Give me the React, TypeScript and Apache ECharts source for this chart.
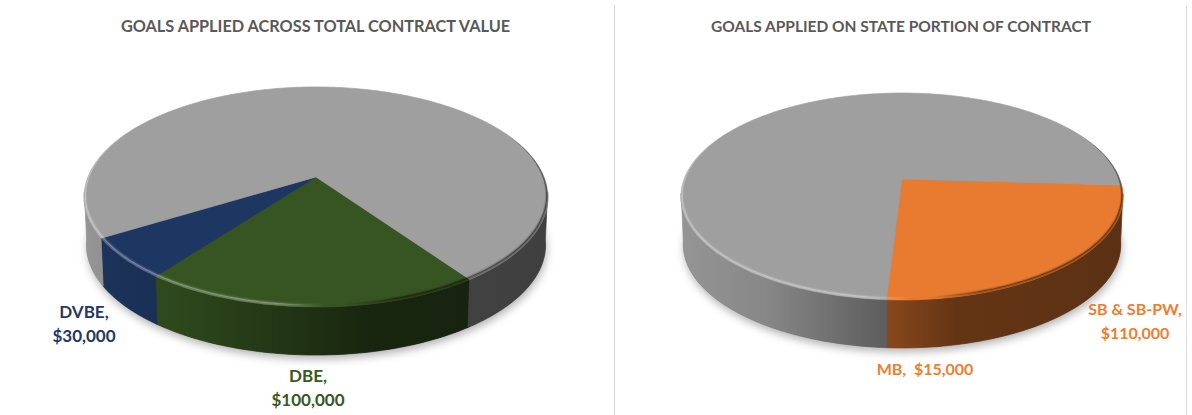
import React, { useEffect, useRef } from "react";
import * as echarts from "echarts";

const TITLE_LEFT = "GOALS APPLIED ACROSS TOTAL CONTRACT VALUE";
const TITLE_RIGHT = "GOALS APPLIED ON STATE PORTION OF CONTRACT";

const leftNames = ["DBE", "DVBE", "Remainder"];
const leftValues = [100000, 30000, 370000];
const rightNames = ["SB & SB-PW", "MB", "Remainder"];
const rightValues = [110000, 15000, 375000];

const COLORS: Record<string, string> = {
  DBE: "#385723",
  DVBE: "#1F3864",
  "SB & SB-PW": "#ED7D31",
  MB: "#ED7D31",
  Remainder: "#A2A2A2",
};

const labelTexts: Record<string, (v: string) => string> = {
  DBE: (v) => `DBE,\n${v}`,
  DVBE: (v) => `DVBE,\n${v}`,
  "SB & SB-PW": (v) => `SB & SB-PW,\n${v}`,
  MB: (v) => `MB,  ${v}`,
};

const LABEL_POS: Record<string, [number, number, number]> = {
  DBE: [308, 387, 17],
  DVBE: [84, 323, 17],
  "SB & SB-PW": [1135, 320, 16],
  MB: [925, 368, 16],
};

type Geo = {
  cx: number; apexY: number; rx: number; a: number; b: number; k: number;
  depth: number; start: number;
};
const GEO_LEFT: Geo = { cx: 316, apexY: 177, rx: 232, a: 228, b: 106.4, k: 0.1818, depth: 48, start: 55 };
const GEO_RIGHT: Geo = { cx: 902, apexY: 179, rx: 221, a: 217.8, b: 100.5, k: 0.169, depth: 48, start: 3.4 };

const rad = (d: number) => (d * Math.PI) / 180;

function project(g: Geo, deg: number, r = 1): [number, number] {
  const u = r * Math.cos(rad(deg));
  const v = r * Math.sin(rad(deg));
  const w = 1 - g.k * v;
  return [g.cx + (g.a * u) / w, g.apexY + (g.b * v) / w];
}
function projectBottom(g: Geo, deg: number): [number, number] {
  const [x, y] = project(g, deg);
  return [g.cx + (x - g.cx) * 0.99, y + g.depth];
}
function arc(a1: number, a2: number, fn: (d: number) => [number, number]) {
  const pts: [number, number][] = [];
  const n = Math.max(2, Math.ceil(Math.abs(a2 - a1)));
  for (let i = 0; i <= n; i++) pts.push(fn(a1 + ((a2 - a1) * i) / n));
  return pts;
}

function shade(hex: string, m: number) {
  const n = parseInt(hex.slice(1), 16);
  const c = [(n >> 16) & 255, (n >> 8) & 255, n & 255].map((x) => Math.round(x * m));
  return `rgb(${c[0]},${c[1]},${c[2]})`;
}
const WALL_STOPS: [number, number][] = [[0, 0.92], [0.2, 0.83], [0.47, 0.57], [0.62, 0.42], [1, 0.39]];

function wallFill(g: Geo, color: string) {
  return {
    type: "linear", global: true, x: g.cx - g.rx, y: 0, x2: g.cx + g.rx, y2: 0,
    colorStops: WALL_STOPS.map(([offset, m]) => ({ offset, color: shade(color, m) })),
  };
}
function bevelFill(g: Geo, alpha: number) {
  return {
    type: "linear", global: true, x: g.cx - g.rx, y: 0, x2: g.cx + g.rx, y2: 0,
    colorStops: [
      { offset: 0, color: `rgba(255,255,255,${alpha})` },
      { offset: 0.42, color: `rgba(255,255,255,${alpha})` },
      { offset: 0.52, color: `rgba(255,255,255,0)` },
      { offset: 0.56, color: `rgba(0,0,0,0)` },
      { offset: 0.68, color: `rgba(0,0,0,${alpha * 1.3})` },
      { offset: 1, color: `rgba(0,0,0,${alpha * 1.5})` },
    ],
  };
}
// bevel width follows the angle: widest on the front and sides, gone at the back
function bevelWidth(deg: number) {
  return Math.max(0, 0.009 + 0.018 * Math.sin(rad(deg)));
}
function band(g: Geo, a1: number, a2: number, w0: number, w1: number) {
  const outer = arc(a1, a2, (d) => project(g, d, 1 - w0 * bevelWidth(d)));
  const inner = arc(a2, a1, (d) => project(g, d, 1 - w1 * bevelWidth(d)));
  return [...outer, ...inner];
}

function sliceRenderer(geo: Geo, names: string[], values: number[]) {
  const total = values.reduce((s, v) => s + v, 0);
  return (params: any, api: any) => {
    const i = params.dataIndex;
    const name = names[i];
    const color = COLORS[name];
    const before = values.slice(0, i).reduce((s, v) => s + v, 0);
    const a1 = geo.start + (before / total) * 360;
    const a2 = a1 + (api.value(0) / total) * 360;
    // neighbouring slices of one colour overlap slightly, so that no seam shows
    const sameAsPrevious = i > 0 && COLORS[names[i - 1]] === color;
    const drawFrom = sameAsPrevious ? a1 - 1 : a1;
    const children: any[] = [];

    // side wall, only the visible front part of the rim
    for (const shift of [0, -360]) {
      const w1 = Math.max(drawFrom + shift, 8);
      const w2 = Math.min(a2 + shift, 172);
      if (w2 > w1) {
        const fill = wallFill(geo, color);
        children.push({
          type: "polygon", z2: 1,
          shape: { points: [...arc(w1, w2, (d) => project(geo, d)), ...arc(w2, w1, (d) => projectBottom(geo, d))] },
          style: { fill, stroke: fill, lineWidth: 0.7 },
        });
      }
    }
    // top face
    const top = shade(color, 0.98);
    children.push({
      type: "polygon", z2: 2,
      shape: { points: [project(geo, 0, 0), ...arc(drawFrom, a2, (d) => project(geo, d))] },
      style: { fill: top, stroke: top, lineWidth: 0.7 },
    });
    // soft bevel along the rim
    const layers: [number, number, number][] = [[0, 0.3, 0.25], [0.3, 0.6, 0.38], [0.6, 0.8, 0.14], [0.8, 1, 0.05]];
    for (const [w0, w1, alpha] of layers) {
      children.push({
        type: "polygon", z2: 3,
        shape: { points: band(geo, a1, a2, w0, w1) },
        style: { fill: bevelFill(geo, alpha) },
      });
    }
    // data label
    if (labelTexts[name]) {
      const [x, y, fontSize] = LABEL_POS[name];
      const money = "$" + Number(api.value(0)).toLocaleString("en-US");
      children.push({
        type: "text", z2: 5, x, y,
        style: {
          text: labelTexts[name](money), fill: color, fontFamily: "Lato", fontWeight: "bold",
          fontSize, lineHeight: 24, textAlign: "center", textVerticalAlign: "middle",
        },
      });
    }
    return { type: "group", children };
  };
}

function shadowRenderer(geo: Geo) {
  return () => ({
    type: "polygon",
    shape: { points: arc(0, 360, (d) => projectBottom(geo, d)) },
    style: {
      fill: "#777", shadowBlur: 9, shadowColor: "rgba(0,0,0,0.3)", shadowOffsetX: 1, shadowOffsetY: 4,
    },
  });
}

const toData = (names: string[], values: number[]) => names.map((name, i) => ({ name, value: [values[i]] }));

export default function App() {
  const ref = useRef<HTMLDivElement>(null);
  useEffect(() => {
    const chart = echarts.init(ref.current!, undefined, { renderer: "svg" });
    const titleStyle = { color: "#595959", fontFamily: "Lato", fontWeight: "bold" as const };
    const custom = (renderItem: any, data: any[], z: number) => ({
      type: "custom", coordinateSystem: "none", silent: true, z, renderItem, data,
      clip: false,
    });
    chart.setOption({
      animation: false,
      backgroundColor: "#ffffff",
      title: [
        { text: TITLE_LEFT, left: 310.5, top: 12, textAlign: "center", textStyle: { ...titleStyle, fontSize: 16.3 } },
        { text: TITLE_RIGHT, left: 896, top: 13, textAlign: "center", textStyle: { ...titleStyle, fontSize: 15.5 } },
      ],
      graphic: [
        { type: "line", silent: true, shape: { x1: 614.5, y1: 5, x2: 614.5, y2: 415 }, style: { stroke: "#d4d4d4", lineWidth: 1 } },
        { type: "line", silent: true, shape: { x1: 1186.5, y1: 6, x2: 1186.5, y2: 415 }, style: { stroke: "#dcdcdc", lineWidth: 1 } },
      ],
      series: [
        custom(shadowRenderer(GEO_LEFT), [[1]], 1),
        custom(shadowRenderer(GEO_RIGHT), [[1]], 1),
        custom(sliceRenderer(GEO_LEFT, leftNames, leftValues), toData(leftNames, leftValues), 2),
        custom(sliceRenderer(GEO_RIGHT, rightNames, rightValues), toData(rightNames, rightValues), 2),
      ],
    });
    return () => chart.dispose();
  }, []);
  return <div ref={ref} style={{ position: "absolute", left: 0, top: 0, width: 1192, height: 415 }} />;
}
